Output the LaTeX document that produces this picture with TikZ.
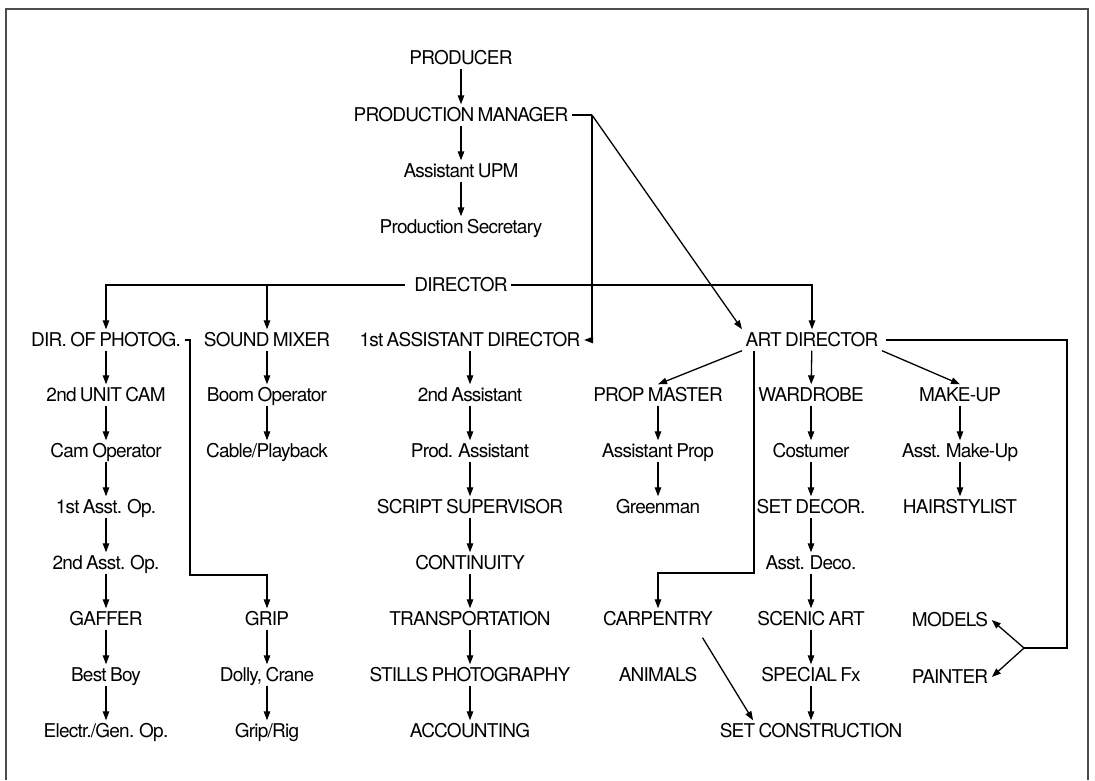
\documentclass[tikz,border=0pt]{standalone}
\usepackage{fontspec}
\setmainfont[LetterSpace=-4,WordSpace=0.75]{TeX Gyre Heros}
\usetikzlibrary{arrows.meta,calc}
\begin{document}
\begin{tikzpicture}[x=1pt,y=-1pt,
  lbl/.style={font=\fontsize{19}{22}\selectfont, text height=13.5pt, text depth=0.5pt, inner sep=3.5pt},
  conn/.style={line width=1.3pt, black},
  arr/.style={conn, -{Triangle[length=9pt,width=6.5pt]}},
  frame/.style={line width=2pt, black!70}]
\useasboundingbox (0,0) rectangle (1095,780);
\draw[frame] (6,780) -- (6,9) -- (1088,9) -- (1088,780);

% top chain
\node[lbl] (prod) at (461,58) {PRODUCER};
\node[lbl] (pm) at (461,115) {PRODUCTION MANAGER};
\node[lbl] (aupm) at (461,171) {Assistant UPM};
\node[lbl] (psec) at (461,227) {Production Secretary};
\node[lbl] (dir) at (461,285) {DIRECTOR};

% row 1
\node[lbl] (dop) at (106,340) {DIR. OF PHOTOG.};
\node[lbl] (snd) at (267,340) {SOUND MIXER};
\node[lbl] (ad1) at (470,340) {1st ASSISTANT DIRECTOR};
\node[lbl] (art) at (812,340) {ART DIRECTOR};

% column A
\node[lbl] (uc2) at (106,395) {2nd UNIT CAM};
\node[lbl] (camop) at (106,451) {Cam Operator};
\node[lbl] (asst1) at (106,507) {1st Asst. Op.};
\node[lbl] (asst2) at (106,563) {2nd Asst. Op.};
\node[lbl] (gaffer) at (106,619) {GAFFER};
\node[lbl] (bestboy) at (106,675) {Best Boy};
\node[lbl] (electr) at (106,731) {Electr./Gen. Op.};

% column B
\node[lbl] (boom) at (267,395) {Boom Operator};
\node[lbl] (cable) at (267,451) {Cable/Playback};
\node[lbl] (grip) at (267,619) {GRIP};
\node[lbl] (dolly) at (267,675) {Dolly, Crane};
\node[lbl] (griprig) at (267,731) {Grip/Rig};

% column C
\node[lbl] (ad2) at (470,395) {2nd Assistant};
\node[lbl] (pa) at (470,451) {Prod. Assistant};
\node[lbl] (script) at (470,507) {SCRIPT SUPERVISOR};
\node[lbl] (cont) at (470,563) {CONTINUITY};
\node[lbl] (trans) at (470,619) {TRANSPORTATION};
\node[lbl] (stills) at (470,675) {STILLS PHOTOGRAPHY};
\node[lbl] (acct) at (470,731) {ACCOUNTING};

% column D
\node[lbl] (propm) at (658,395) {PROP MASTER};
\node[lbl] (aprop) at (658,451) {Assistant Prop};
\node[lbl] (green) at (658,507) {Greenman};
\node[lbl] (carp) at (658,619) {CARPENTRY};
\node[lbl] (animals) at (658,675) {ANIMALS};

% column E
\node[lbl] (ward) at (811,395) {WARDROBE};
\node[lbl] (cost) at (811,451) {Costumer};
\node[lbl] (setdec) at (811,507) {SET DECOR.};
\node[lbl] (adeco) at (811,563) {Asst. Deco.};
\node[lbl] (scenic) at (811,619) {SCENIC ART};
\node[lbl] (sfx) at (811,675) {SPECIAL Fx};
\node[lbl] (setcon) at (811,731) {SET CONSTRUCTION};

% column F
\node[lbl] (makeup) at (960,395) {MAKE-UP};
\node[lbl] (amake) at (960,451) {Asst. Make-Up};
\node[lbl] (hair) at (960,507) {HAIRSTYLIST};
\node[lbl] (models) at (950,620) {MODELS};
\node[lbl] (painter) at (950,677) {PAINTER};

% vertical chains
\foreach \a/\b in {prod/pm, pm/aupm, aupm/psec,
  dop/uc2, uc2/camop, camop/asst1, asst1/asst2, asst2/gaffer, gaffer/bestboy, bestboy/electr,
  snd/boom, boom/cable, grip/dolly, dolly/griprig,
  ad1/ad2, ad2/pa, pa/script, script/cont, cont/trans, trans/stills, stills/acct,
  propm/aprop, aprop/green,
  art/ward, ward/cost, cost/setdec, setdec/adeco, adeco/scenic, scenic/sfx, sfx/setcon,
  makeup/amake, amake/hair}
  \draw[arr] (\a) -- (\b);

% director
\draw[arr] ([xshift=-6pt]dir.west) -| (dop);
\draw[arr] (dir.west -| snd) -- (snd);
\draw[arr] (dir.east) -| (art);

% production manager
\coordinate (pmc) at (592,115);
\draw[conn] (pm.east) -- (pmc);
\draw[arr] (pmc) |- (ad1.east);
\draw[arr] (pmc) -- (art.north west);

% DP to grip
\coordinate (gripc) at (190,575);
\draw[arr] (dop.east) -| (gripc) -| (grip);

% art director branches
\draw[arr] (art.south west) -- (propm.north);
\draw[arr] (art.south east) -- (makeup.north);
\coordinate (carpc) at (754,573);
\draw[arr] (carpc |- art.south) -- (carpc) -| (carp);
\coordinate (mpr) at (1067,648);
\coordinate (mpl) at (1024,648);
\draw[conn] ([xshift=4pt]art.east) -| (mpr) -- (mpl);
\draw[arr] (mpl) -- (models.east);
\draw[arr] (mpl) -- (painter.east);

% carpentry to set construction
\draw[arr] ([xshift=-14pt,yshift=-8pt]carp.south east) -- ([xshift=37pt]setcon.north west);
\end{tikzpicture}
\end{document}
